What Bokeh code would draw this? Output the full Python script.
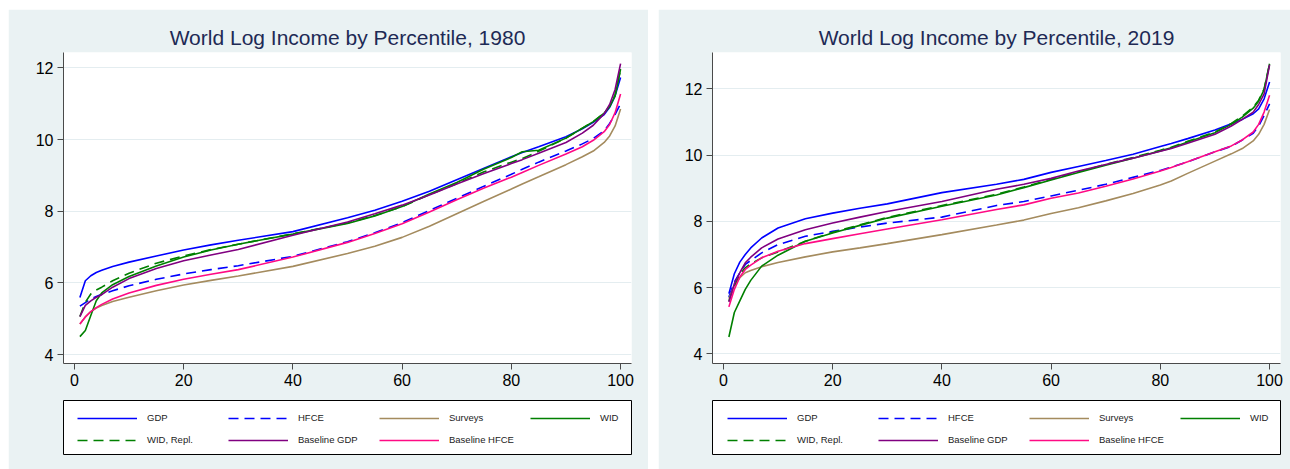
from bokeh.plotting import figure
from bokeh.models import Legend, LegendItem, Range1d, FixedTicker, Spacer
from bokeh.layouts import row, column
from bokeh.embed import file_html
from bokeh.resources import INLINE

# ---------------- data ----------------
pct = [1, 2, 3, 4, 5, 7, 10, 15, 20, 25, 30, 40, 50, 55, 60, 65, 70, 75, 80, 82, 85, 90, 93, 95, 97, 98, 99, 100]

gdp_1980 = [5.59, 6.06, 6.20, 6.29, 6.35, 6.46, 6.58, 6.75, 6.92, 7.06, 7.19, 7.43, 7.82, 8.03, 8.28, 8.56, 8.88, 9.20, 9.52, 9.64, 9.80, 10.08, 10.30, 10.48, 10.70, 10.90, 11.22, 11.73]
hfce_1980 = [5.35, 5.45, 5.55, 5.62, 5.68, 5.78, 5.92, 6.10, 6.25, 6.37, 6.48, 6.74, 7.15, 7.40, 7.68, 8.02, 8.36, 8.70, 9.03, 9.17, 9.37, 9.68, 9.88, 10.03, 10.25, 10.45, 10.70, 11.00]
surveys_1980 = [4.85, 5.05, 5.20, 5.30, 5.37, 5.48, 5.60, 5.78, 5.94, 6.07, 6.19, 6.46, 6.82, 7.02, 7.27, 7.58, 7.93, 8.28, 8.62, 8.76, 8.96, 9.30, 9.52, 9.68, 9.92, 10.10, 10.38, 10.85]
wid_1980 = [4.50, 4.67, 5.09, 5.50, 5.72, 5.95, 6.18, 6.47, 6.72, 6.92, 7.08, 7.36, 7.66, 7.87, 8.13, 8.48, 8.80, 9.18, 9.50, 9.66, 9.70, 10.04, 10.32, 10.50, 10.74, 10.92, 11.22, 11.97]
widrepl_1980 = [5.06, 5.46, 5.69, 5.80, 5.88, 6.06, 6.27, 6.55, 6.75, 6.93, 7.08, 7.37, 7.67, 7.88, 8.13, 8.46, 8.77, 9.10, 9.37, 9.47, 9.67, 10.04, 10.32, 10.50, 10.74, 10.93, 11.25, 11.95]
basegdp_1980 = [5.06, 5.37, 5.50, 5.60, 5.67, 5.88, 6.12, 6.40, 6.62, 6.78, 6.93, 7.33, 7.70, 7.93, 8.17, 8.45, 8.76, 9.05, 9.33, 9.44, 9.62, 9.92, 10.18, 10.40, 10.72, 10.98, 11.40, 12.12]
basehfce_1980 = [4.85, 5.05, 5.20, 5.31, 5.40, 5.55, 5.72, 5.93, 6.10, 6.24, 6.37, 6.72, 7.13, 7.38, 7.65, 7.98, 8.32, 8.65, 8.95, 9.08, 9.28, 9.60, 9.80, 9.98, 10.22, 10.42, 10.75, 11.27]

gdp_2019 = [5.82, 6.42, 6.77, 7.00, 7.20, 7.50, 7.80, 8.08, 8.25, 8.40, 8.53, 8.87, 9.12, 9.27, 9.48, 9.66, 9.84, 10.03, 10.26, 10.35, 10.50, 10.76, 10.95, 11.08, 11.25, 11.40, 11.70, 12.21]
hfce_2019 = [5.72, 6.17, 6.45, 6.70, 6.82, 7.05, 7.30, 7.55, 7.70, 7.83, 7.95, 8.13, 8.48, 8.60, 8.77, 8.94, 9.12, 9.33, 9.54, 9.64, 9.80, 10.10, 10.27, 10.46, 10.66, 10.88, 11.20, 11.55]
surveys_2019 = [5.67, 6.07, 6.30, 6.45, 6.52, 6.63, 6.76, 6.93, 7.08, 7.20, 7.33, 7.60, 7.89, 8.04, 8.24, 8.41, 8.62, 8.84, 9.10, 9.22, 9.45, 9.82, 10.04, 10.20, 10.43, 10.63, 10.93, 11.38]
wid_2019 = [4.51, 5.25, 5.60, 5.95, 6.22, 6.65, 6.98, 7.40, 7.65, 7.88, 8.10, 8.46, 8.80, 9.02, 9.25, 9.48, 9.70, 9.91, 10.13, 10.22, 10.40, 10.68, 10.93, 11.15, 11.42, 11.63, 11.98, 12.76]
widrepl_2019 = [5.60, 6.05, 6.40, 6.60, 6.72, 6.90, 7.08, 7.40, 7.67, 7.90, 8.12, 8.48, 8.82, 9.04, 9.27, 9.50, 9.72, 9.93, 10.15, 10.24, 10.42, 10.70, 10.96, 11.18, 11.45, 11.66, 12.00, 12.76]
basegdp_2019 = [5.57, 6.12, 6.45, 6.75, 6.92, 7.20, 7.47, 7.75, 7.95, 8.13, 8.30, 8.60, 8.97, 9.12, 9.30, 9.52, 9.72, 9.91, 10.12, 10.20, 10.36, 10.63, 10.88, 11.08, 11.30, 11.53, 11.85, 12.73]
basehfce_2019 = [5.42, 5.95, 6.32, 6.55, 6.68, 6.90, 7.10, 7.33, 7.48, 7.63, 7.77, 8.05, 8.36, 8.50, 8.70, 8.86, 9.06, 9.28, 9.52, 9.63, 9.80, 10.10, 10.28, 10.46, 10.70, 10.93, 11.30, 11.81]

series_labels = ["GDP", "HFCE", "Surveys", "WID", "WID, Repl.", "Baseline GDP", "Baseline HFCE"]
x_ticks = [0, 20, 40, 60, 80, 100]
y_ticks = [4, 6, 8, 10, 12]
titles = ["World Log Income by Percentile, 1980", "World Log Income by Percentile, 2019"]

# ---------------- style ----------------
COLORS = ["#0000FF", "#0000FF", "#A48B5E", "#008000", "#008000", "#800080", "#FF0A84"]
DASHES = ["solid", "10 6", "solid", "solid", "10 6", "solid", "solid"]
PANEL_BG = "#EAF2F3"
FONT = "Liberation Sans"
PLOT_H = 385
LEG_H = 76


def style_legend(leg):
    leg.glyph_width = 60
    leg.glyph_height = 14
    leg.label_height = 14
    leg.label_width = 68
    leg.label_standoff = 10
    leg.spacing = 13
    leg.padding = 0
    leg.margin = 0
    leg.label_text_font = FONT
    leg.label_text_font_size = "9.5px"
    leg.label_text_color = "#222222"
    leg.background_fill_alpha = 0
    leg.border_line_color = None


def make_panel(title, series, y_lo, y_hi, width, b_left, b_right, key_x):
    p = figure(width=width, height=PLOT_H, title=title,
               x_range=Range1d(-2, 102), y_range=Range1d(y_lo, y_hi),
               output_backend="svg", toolbar_location=None,
               min_border_left=b_left, min_border_right=b_right,
               min_border_top=43, min_border_bottom=31)
    p.background_fill_color = "white"
    p.border_fill_color = PANEL_BG
    p.outline_line_color = None

    p.title.text_font = FONT
    p.title.text_font_size = "21px"
    p.title.text_font_style = "normal"
    p.title.text_color = "#1E2A55"
    p.title.align = "center"
    p.title.standoff = 8

    for ax in (p.xaxis[0], p.yaxis[0]):
        ax.axis_line_color = "#4A4A4A"
        ax.major_tick_line_color = "#4A4A4A"
        ax.major_tick_out = 6
        ax.major_tick_in = 0
        ax.minor_tick_line_color = None
        ax.major_label_text_font = FONT
        ax.major_label_text_font_size = "16px"
        ax.major_label_text_color = "black"
        ax.major_label_standoff = 4
    p.xaxis.ticker = FixedTicker(ticks=x_ticks)
    p.yaxis.ticker = FixedTicker(ticks=y_ticks)
    p.xgrid.grid_line_color = None
    p.ygrid.grid_line_color = "#E4EDF0"
    p.ygrid.grid_line_width = 1.2

    for ys, col, dash in zip(series, COLORS, DASHES):
        p.line(pct, ys, line_color=col, line_width=1.6, line_dash=dash)

    # legend panel: its frame is the legend box (aligned with the plot frame)
    lf = figure(width=width, height=LEG_H,
                x_range=Range1d(-2, 102), y_range=Range1d(-30, -20),
                output_backend="svg", toolbar_location=None,
                x_axis_location=None, y_axis_location=None,
                min_border_left=b_left, min_border_right=b_right,
                min_border_top=7, min_border_bottom=15)
    lf.margin = (-1, 0, 0, 0)
    lf.background_fill_color = "white"
    lf.border_fill_color = PANEL_BG
    lf.outline_line_color = "black"
    lf.outline_line_width = 1
    lf.grid.visible = False
    items = []
    for lab, ys, col, dash in zip(series_labels, series, COLORS, DASHES):
        # same series, outside this panel's visible range: only the legend keys show
        r = lf.line(pct, ys, line_color=col, line_width=1.6, line_dash=dash)
        items.append(LegendItem(label=lab, renderers=[r]))
    leg1 = Legend(items=items[:4], orientation="horizontal", location=(key_x, 29.5))
    leg2 = Legend(items=items[4:], orientation="horizontal", location=(key_x, 7.5))
    style_legend(leg1)
    style_legend(leg2)
    lf.add_layout(leg1, "center")
    lf.add_layout(leg2, "center")
    return column(p, lf, spacing=0)


panel1 = make_panel(titles[0],
                    [gdp_1980, hfce_1980, surveys_1980, wid_1980, widrepl_1980, basegdp_1980, basehfce_1980],
                    3.75, 12.43, 640, 55, 17, 14)
panel2 = make_panel(titles[1],
                    [gdp_2019, hfce_2019, surveys_2019, wid_2019, widrepl_2019, basegdp_2019, basehfce_2019],
                    3.71, 13.1, 632, 54, 10, 15)

layout = column(Spacer(height=9),
                row(Spacer(width=8), panel1, Spacer(width=10), panel2, spacing=0),
                spacing=0)
open("out.html", "w").write(file_html(layout, INLINE))
